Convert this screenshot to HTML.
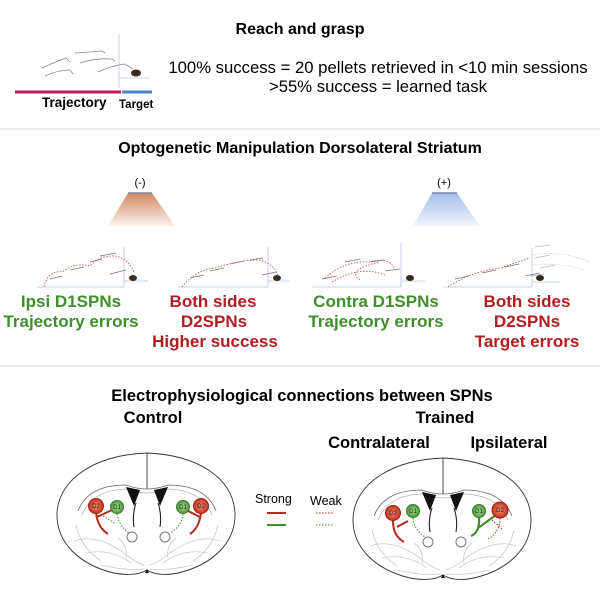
<!DOCTYPE html>
<html><head><style>
html,body{margin:0;padding:0;background:#fff;}
svg{display:block;font-family:"Liberation Sans",Arial,sans-serif;}
</style></head><body>
<svg width="600" height="600" viewBox="0 0 600 600" xmlns="http://www.w3.org/2000/svg">
<defs>
<linearGradient id="og" x1="0" y1="0" x2="0" y2="1"><stop offset="0" stop-color="#d18a62"/><stop offset="1" stop-color="#fcf1ea"/></linearGradient>
<linearGradient id="bg" x1="0" y1="0" x2="0" y2="1"><stop offset="0" stop-color="#a3bde8"/><stop offset="1" stop-color="#f3f6fc"/></linearGradient>
<radialGradient id="rd"><stop offset="0" stop-color="#f08a70"/><stop offset="1" stop-color="#c8321e"/></radialGradient>
<radialGradient id="gn"><stop offset="0" stop-color="#a6d890"/><stop offset="1" stop-color="#4e9e3a"/></radialGradient>
<g id="brain">
<path d="M91 0 C40 2 3 25 1 60 C0 90 24 112 58 120 Q80 124 91 117 Q102 124 122 120 C156 112 180 90 179 60 C177 25 142 2 91 0 Z" fill="none" stroke="#333" stroke-width="0.9"/>
<line x1="91" y1="0" x2="91" y2="36" stroke="#333" stroke-width="0.9"/>
<path d="M22 58 Q32 32 70 32 Q91 40 112 32 Q150 32 160 58" fill="none" stroke="#666" stroke-width="0.8"/>
<path d="M26 62 Q36 37 70 36 Q91 44 112 36 Q146 37 156 62" fill="none" stroke="#999" stroke-width="0.6"/>
<path d="M70 34 l14 3 l-6 16 z M112 34 l-14 3 l6 16 z" fill="#111"/>
<path d="M80 50 Q76 62 78 74 M102 50 Q106 62 104 74" fill="none" stroke="#222" stroke-width="1.1"/>
<circle cx="76" cy="84" r="5" fill="none" stroke="#777"/><circle cx="109" cy="84" r="5" fill="none" stroke="#777"/>
<path d="M18 88 Q40 80 68 100 Q80 110 88 112 M164 88 Q142 80 114 100 Q102 110 94 112 M30 100 Q55 95 75 110 M152 100 Q127 95 107 110 M20 72 Q25 95 45 108 M162 72 Q157 95 137 108 M62 85 Q72 92 70 105 M120 85 Q110 92 112 105 M45 112 Q70 118 88 116 M137 112 Q112 118 94 116" fill="none" stroke="#c8c8c8" stroke-width="0.8"/>
<path d="M89 120 l2 -4 l2 4 z" fill="#111"/>
</g>
</defs>
<!-- section 1 -->
<text x="300" y="34" font-size="16" font-weight="bold" text-anchor="middle">Reach and grasp</text>
<text x="378" y="73" font-size="16.7" text-anchor="middle">100% success = 20 pellets retrieved in &lt;10 min sessions</text>
<text x="378" y="92" font-size="16.7" text-anchor="middle">&gt;55% success = learned task</text>
<g fill="none" stroke-width="0.8">
<line x1="119" y1="34" x2="119" y2="88" stroke="#b9c7e0"/><line x1="119" y1="78" x2="150" y2="78" stroke="#b9c7e0"/>
<g stroke="#888"><path d="M42 68 Q55 62 66 58 l4 4 M45 76 Q58 70 70 70 l3 4 M75 53 Q90 52 102 51 l3 2 M80 63 Q95 58 112 59 l3 2 M98 72 Q110 66 125 64 l8 5"/></g>
</g>
<ellipse cx="136" cy="73" rx="5" ry="3.5" fill="#3a2a1a"/>
<line x1="15" y1="92" x2="121" y2="92" stroke="#c0185a" stroke-width="3"/>
<line x1="122" y1="92" x2="152" y2="92" stroke="#4a86d0" stroke-width="3"/>
<text x="42" y="107" font-size="13.5" font-weight="bold">Trajectory</text>
<text x="119" y="108" font-size="11.5" font-weight="bold">Target</text>
<line x1="0" y1="129" x2="600" y2="129" stroke="#eee" stroke-width="2"/>
<!-- section 2 -->
<text x="300" y="153" font-size="16" font-weight="bold" text-anchor="middle">Optogenetic Manipulation Dorsolateral Striatum</text>
<text x="140" y="186" font-size="11" text-anchor="middle">(-)</text>
<text x="444" y="186" font-size="11" text-anchor="middle">(+)</text>
<polygon points="128,193 152,193 175,226 108,226" fill="url(#og)"/>
<line x1="128" y1="193" x2="152" y2="193" stroke="#7a8aa0" stroke-width="1.5"/>
<polygon points="432,193 457,193 480,226 413,226" fill="url(#bg)"/>
<line x1="432" y1="193" x2="457" y2="193" stroke="#7a8aa0" stroke-width="1.5"/>
<g fill="none" stroke-width="0.8">
<g stroke="#b9c7e0"><line x1="37" y1="287" x2="124" y2="287"/><line x1="124" y1="247" x2="124" y2="287"/><line x1="124" y1="281" x2="148" y2="281"/>
<line x1="178" y1="287" x2="268" y2="287"/><line x1="268" y1="247" x2="268" y2="287"/><line x1="268" y1="281" x2="290" y2="281"/>
<line x1="312" y1="287" x2="401" y2="287"/><line x1="401" y1="243" x2="401" y2="287"/><line x1="401" y1="281" x2="425" y2="281"/>
<line x1="443" y1="287" x2="532" y2="287"/><line x1="532" y1="248" x2="532" y2="287"/><line x1="532" y1="282" x2="560" y2="282"/></g>
<g stroke="#c44" stroke-dasharray="1.5,1.5"><path d="M44 287 Q48 270 62 272 Q75 262 90 266 Q100 255 115 256 Q128 258 134 272"/><path d="M182 287 Q195 270 215 268 Q240 260 258 260 Q272 262 278 275"/><path d="M325 278 Q345 260 370 262 Q390 256 395 270 M332 282 Q360 265 385 275 M360 280 Q345 270 380 262"/><path d="M448 287 Q470 272 500 268 Q518 262 530 258"/></g>
<g stroke="#c2cde0" stroke-dasharray="1.5,1.5"><path d="M532 255 Q560 250 590 262 M532 265 Q560 262 585 270"/></g>
<g stroke="#777"><path d="M50 279 l12 -3 M70 270 l14 -3 M90 262 l12 -3 M100 256 l16 -3 M110 274 l16 -4 M190 278 l14 -3 M210 271 l14 -3 M230 264 l14 -3 M250 260 l13 -2 M262 275 l14 -3 M322 279 l15 -3 M345 262 l15 -3 M370 262 l14 -2 M385 271 l15 -2 M455 279 l14 -3 M482 273 l14 -3 M505 267 l14 -3 M525 276 l15 -3"/></g>
<g stroke="#bbb"><path d="M535 247 l15 -2 M535 258 l15 -3 M540 268 l15 -3 M530 276 l14 -2"/></g>
</g>
<g fill="#3a2a1a"><ellipse cx="133" cy="278" rx="4" ry="3"/><ellipse cx="277" cy="278" rx="4" ry="3"/><ellipse cx="410" cy="278" rx="4" ry="3"/><ellipse cx="540" cy="278" rx="4" ry="3"/></g>
<g font-size="17" font-weight="bold" text-anchor="middle">
<text x="71" y="307" fill="#3f8f2a">Ipsi D1SPNs</text>
<text x="71" y="327" fill="#3f8f2a">Trajectory errors</text>
<text x="213" y="307" fill="#b01e22">Both sides</text>
<text x="214" y="327" fill="#b01e22">D2SPNs</text>
<text x="215" y="347" fill="#b01e22">Higher success</text>
<text x="376" y="307" fill="#3f8f2a">Contra D1SPNs</text>
<text x="376" y="327" fill="#3f8f2a">Trajectory errors</text>
<text x="527" y="307" fill="#b01e22">Both sides</text>
<text x="527" y="327" fill="#b01e22">D2SPNs</text>
<text x="527" y="347" fill="#b01e22">Target errors</text>
</g>
<line x1="0" y1="366" x2="600" y2="366" stroke="#eee" stroke-width="2"/>
<!-- section 3 -->
<text x="302" y="401" font-size="16.5" font-weight="bold" text-anchor="middle">Electrophysiological connections between SPNs</text>
<text x="153" y="423" font-size="16.5" font-weight="bold" text-anchor="middle">Control</text>
<text x="445" y="423" font-size="16.5" font-weight="bold" text-anchor="middle">Trained</text>
<text x="379" y="448" font-size="16.5" font-weight="bold" text-anchor="middle">Contralateral</text>
<text x="509" y="448" font-size="16.5" font-weight="bold" text-anchor="middle">Ipsilateral</text>
<use href="#brain" x="56" y="453"/>
<use href="#brain" x="352" y="458"/>
<g fill="none">
<!-- control -->
<path d="M96 513 Q98 528 108 534 M97 517 L112 510" stroke="#b8281e" stroke-width="2"/>
<path d="M117 514 Q119 526 129 533 M103 516 L116 524" stroke="#3f8f2a" stroke-width="1" stroke-dasharray="1.5,1.5"/>
<path d="M201 513 Q199 528 190 534 M200 517 L186 510" stroke="#b8281e" stroke-width="2"/>
<path d="M183 514 Q182 526 170 533" stroke="#3f8f2a" stroke-width="1" stroke-dasharray="1.5,1.5"/>
<!-- trained contra -->
<path d="M393 521 Q393 536 404 542 M397 527 L408 521" stroke="#b8281e" stroke-width="2"/>
<path d="M413 518 Q414 530 425 537" stroke="#3f8f2a" stroke-width="1" stroke-dasharray="1.5,1.5"/>
<!-- trained ipsi -->
<path d="M479 518 Q480 532 471 536 M478 528 L496 515" stroke="#3f8f2a" stroke-width="2.2"/>
<path d="M500 518 Q500 532 488 539 M492 520 L503 530" stroke="#b8281e" stroke-width="1" stroke-dasharray="1.5,1.5"/>
</g>
<g font-size="6" text-anchor="middle" fill="#222">
<circle cx="96" cy="506" r="7.5" fill="url(#rd)" stroke="#a02010"/><text x="96" y="508">D2</text>
<circle cx="117" cy="507" r="6.5" fill="url(#gn)" stroke="#3a7a2a"/><text x="117" y="509">D1</text>
<circle cx="183" cy="507" r="6.5" fill="url(#gn)" stroke="#3a7a2a"/><text x="183" y="509">D1</text>
<circle cx="201" cy="506" r="7.5" fill="url(#rd)" stroke="#a02010"/><text x="201" y="508">D2</text>
<circle cx="393" cy="513" r="7.5" fill="url(#rd)" stroke="#a02010"/><text x="393" y="515">D2</text>
<circle cx="413" cy="511" r="6.5" fill="url(#gn)" stroke="#3a7a2a"/><text x="413" y="513">D1</text>
<circle cx="479" cy="511" r="6.5" fill="url(#gn)" stroke="#3a7a2a"/><text x="479" y="513">D1</text>
<circle cx="500" cy="510" r="8" fill="url(#rd)" stroke="#a02010"/><text x="500" y="512">D2</text>
</g>
<!-- legend -->
<text x="255" y="503" font-size="12.5">Strong</text>
<text x="310" y="505" font-size="12.5">Weak</text>
<line x1="267" y1="513" x2="286" y2="513" stroke="#b8281e" stroke-width="2"/>
<line x1="267" y1="525" x2="286" y2="525" stroke="#3f8f2a" stroke-width="2"/>
<line x1="316" y1="513" x2="334" y2="513" stroke="#b8281e" stroke-width="1" stroke-dasharray="1.5,1.5"/>
<line x1="316" y1="525" x2="334" y2="525" stroke="#3f8f2a" stroke-width="1" stroke-dasharray="1.5,1.5"/>
</svg>
</body></html>
